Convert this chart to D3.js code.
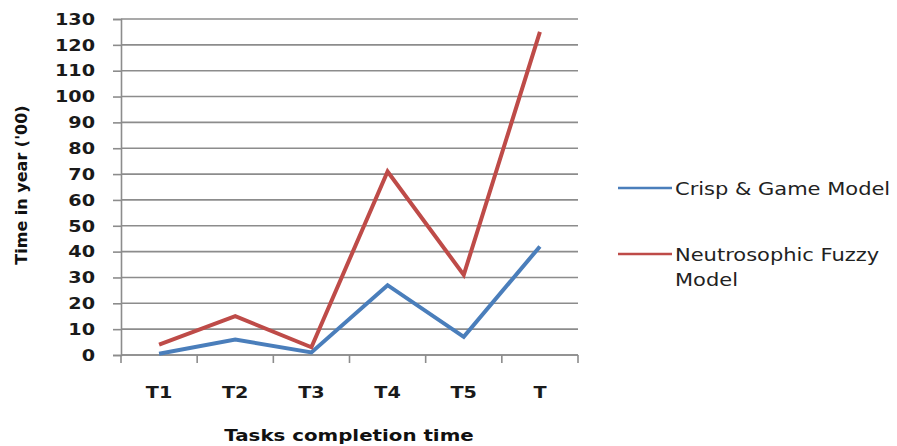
<!DOCTYPE html>
<html>
<head>
<meta charset="utf-8">
<script src="https://cdn.jsdelivr.net/npm/d3@7"></script>
<style>
  body { margin: 0; background: #fff; }
  text { font-family: "DejaVu Sans", Verdana, sans-serif; }
</style>
</head>
<body>
<div id="chart"></div>
<script>
// data
const tasks = ["T1", "T2", "T3", "T4", "T5", "T"];
const crispGame = [0.5, 6, 1, 27, 7, 42];
const neutroFuzzy = [4, 15, 3, 71, 31, 125];
const yTicks = [0, 10, 20, 30, 40, 50, 60, 70, 80, 90, 100, 110, 120, 130];
const seriesNames = ["Crisp & Game Model", "Neutrosophic Fuzzy Model"];
const seriesColors = ["#4a7ebb", "#be4b48"];

const width = 897, height = 446;
const margin = { top: 19, left: 121, right: 319, bottom: 91 };
const stretch = 1.2; // the reference text looks a bit wide

const svg = d3.select("#chart").append("svg")
  .attr("width", width)
  .attr("height", height);

const x = d3.scaleBand().domain(tasks)
  .range([margin.left, width - margin.right]);
const y = d3.scaleLinear().domain([0, 130])
  .range([height - margin.bottom, margin.top]);

// horizontal grid lines
svg.append("g")
  .selectAll("line")
  .data(yTicks)
  .join("line")
  .attr("x1", margin.left)
  .attr("x2", width - margin.right)
  .attr("y1", d => y(d))
  .attr("y2", d => y(d))
  .attr("stroke", "#8c8c8c")
  .attr("stroke-width", 1.6);

// y axis
const yAxis = svg.append("g")
  .attr("transform", `translate(${margin.left},0)`)
  .call(d3.axisLeft(y).tickValues(yTicks).tickSize(8).tickFormat(""));
yAxis.select(".domain").attr("stroke", "#8c8c8c").attr("stroke-width", 1.6);
yAxis.selectAll(".tick line").attr("stroke", "#8c8c8c").attr("stroke-width", 1.6);

svg.append("g")
  .selectAll("text")
  .data(yTicks)
  .join("text")
  .attr("transform", d => `translate(95,${y(d)}) scale(${stretch},1)`)
  .attr("dy", "0.36em")
  .attr("text-anchor", "end")
  .attr("font-size", 16)
  .attr("font-weight", "bold")
  .attr("fill", "#1a1a1a")
  .text(d => d);

// x axis, ticks between categories
const xAxis = svg.append("g")
  .attr("transform", `translate(0,${y(0)})`);
xAxis.append("line")
  .attr("x1", margin.left).attr("x2", width - margin.right)
  .attr("stroke", "#8c8c8c").attr("stroke-width", 1.6);
const edges = tasks.map(t => x(t)).concat([x.range()[1]]);
xAxis.selectAll(".edge")
  .data(edges)
  .join("line")
  .attr("class", "edge")
  .attr("x1", d => d).attr("x2", d => d)
  .attr("y1", 0).attr("y2", 8)
  .attr("stroke", "#8c8c8c").attr("stroke-width", 1.6);
xAxis.selectAll(".lbl")
  .data(tasks)
  .join("text")
  .attr("class", "lbl")
  .attr("transform", d => `translate(${x(d) + x.bandwidth() / 2},43) scale(${stretch},1)`)
  .attr("text-anchor", "middle")
  .attr("font-size", 16)
  .attr("font-weight", "bold")
  .attr("fill", "#1a1a1a")
  .text(d => d);

// axis titles
svg.append("text")
  .attr("transform", `translate(349,441) scale(${stretch},1)`)
  .attr("text-anchor", "middle")
  .attr("font-size", 16.5)
  .attr("font-weight", "bold")
  .attr("fill", "#111")
  .text("Tasks completion time");

svg.append("text")
  .attr("transform", "translate(27,185) rotate(-90)")
  .attr("text-anchor", "middle")
  .attr("font-size", 16)
  .attr("font-weight", "bold")
  .attr("fill", "#111")
  .text("Time in year ('00)");

// lines
const line = d3.line()
  .x((d, i) => x(tasks[i]) + x.bandwidth() / 2)
  .y(d => y(d));

[crispGame, neutroFuzzy].forEach((vals, k) => {
  svg.append("path")
    .datum(vals)
    .attr("d", line)
    .attr("fill", "none")
    .attr("stroke", seriesColors[k])
    .attr("stroke-width", 4)
    .attr("stroke-linejoin", "miter");
});

// legend
const legend = svg.append("g").attr("transform", "translate(618,188)");
const legendText = (ty, str) => legend.append("text")
  .attr("transform", `translate(57,${ty}) scale(${stretch},1)`)
  .attr("font-size", 17.5)
  .attr("fill", "#222")
  .attr("font-family", "Open Sans")
  .text(str);

legend.append("line")
  .attr("x1", 0).attr("x2", 54).attr("y1", 0).attr("y2", 0)
  .attr("stroke", seriesColors[0]).attr("stroke-width", 2.5);
legendText(7, seriesNames[0]);

legend.append("line")
  .attr("x1", 0).attr("x2", 54).attr("y1", 66).attr("y2", 66)
  .attr("stroke", seriesColors[1]).attr("stroke-width", 2.5);
legendText(73, "Neutrosophic Fuzzy");
legendText(98, "Model");
</script>
</body>
</html>
